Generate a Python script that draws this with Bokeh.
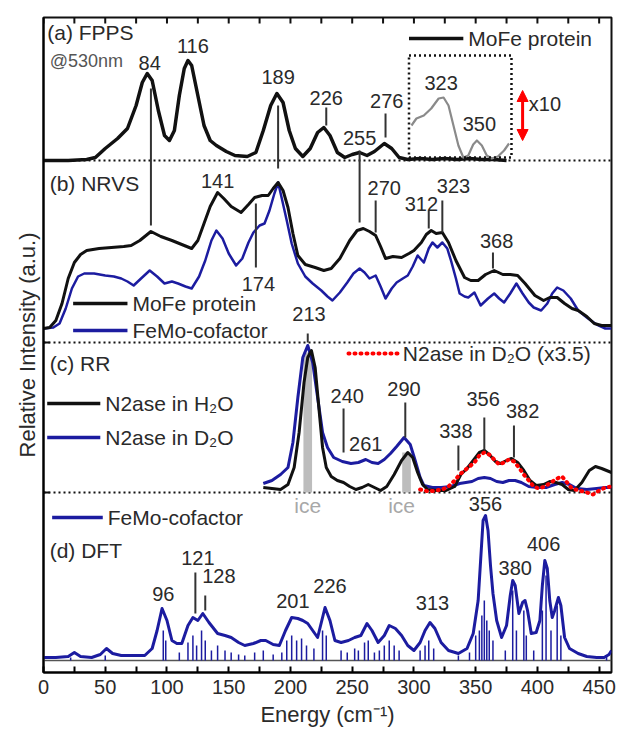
from bokeh.plotting import figure
from bokeh.models import Range1d, FixedTicker, Arrow, NormalHead, ColumnDataSource
from bokeh.core.properties import value
from bokeh.embed import file_html
from bokeh.resources import INLINE

# ---------------- data (energy in cm-1, intensity in a.u.) ----------------
fpps_e = [0, 20, 35, 42, 50, 60, 68, 75, 80, 84, 88, 93, 98, 102, 106, 110, 114, 117, 120, 125,
          130, 135, 140, 148, 155, 165, 172, 178, 184, 189, 194, 199, 204, 210, 216, 222, 227, 232, 238, 244,
          250, 256, 262, 268, 276, 282, 288, 295, 305, 315, 325, 335, 345, 355, 365, 375]
fpps_i = [0, 0, 1, 3, 12, 22, 32, 55, 78, 87, 80, 50, 25, 20, 30, 65, 92, 100, 95, 65,
          35, 20, 15, 9, 5, 4, 8, 30, 55, 67, 58, 30, 12, 4, 12, 28, 33, 25, 8, 3,
          6, 8, 5, 9, 17, 12, 3, 1, 2, 1, 2, 1, 2, 1, 1, 0]

fpps_x10_e = [298, 302, 308, 314, 320, 324, 328, 332, 336, 340, 344, 348, 351, 355, 359, 363, 368, 373, 377]
fpps_x10_i = [35, 42, 45, 52, 62, 63, 55, 35, 15, 3, 5, 16, 20, 15, 5, 2, 4, 10, 17]

nrvs_mofe_e = [0, 5, 10, 15, 20, 25, 30, 35, 45, 55, 65, 71, 78, 87, 95, 104, 112, 120, 125, 130,
               135, 141, 146, 152, 160, 166, 171, 177, 182, 186, 190, 194, 198, 202, 206, 212, 220, 227, 233, 240,
               248, 254, 259, 264, 269, 273, 277, 283, 290, 296, 300, 306, 310, 314, 318, 323, 328, 334, 341, 346,
               352, 358, 365, 372, 378, 384, 390, 398, 405, 410, 416, 422, 428, 433, 440, 446, 452, 460]
nrvs_mofe_i = [0, 1, 8, 25, 50, 66, 74, 78, 80, 81, 82, 83, 88, 97, 92, 88, 84, 80, 88, 105,
               122, 136, 130, 122, 116, 124, 131, 133, 133, 140, 146, 138, 121, 95, 73, 64, 61, 58, 60, 70,
               88, 98, 100, 97, 93, 82, 70, 72, 71, 75, 78, 86, 94, 98, 95, 96, 86, 68, 51, 48,
               48, 54, 58, 54, 54, 53, 45, 33, 28, 31, 31, 25, 20, 18, 12, 5, 3, 3]

nrvs_femoco_e = [0, 8, 13, 18, 23, 28, 33, 41, 50, 57, 63, 68, 73, 79, 86, 92, 98, 104, 109, 115,
                 120, 126, 131, 136, 140, 145, 150, 156, 161, 166, 170, 175, 179, 183, 187, 190, 193, 197, 201, 206,
                 212, 218, 225, 230, 234, 240, 246, 251, 256, 260, 264, 269, 273, 277, 282, 286, 291, 295, 299, 303,
                 308, 312, 315, 319, 323, 327, 330, 334, 337, 341, 344, 349, 354, 360, 365, 369, 373, 378, 383, 388,
                 393, 397, 403, 408, 412, 416, 421, 427, 433, 437, 441, 448, 455, 460]
nrvs_femoco_i = [0, 1, 5, 20, 40, 52, 55, 55, 53, 52, 50, 47, 43, 50, 58, 52, 45, 47, 45, 42,
                 40, 52, 68, 88, 98, 90, 75, 63, 70, 86, 96, 103, 105, 118, 135, 146, 130, 108, 85, 65,
                 52, 45, 38, 32, 28, 36, 46, 55, 60, 56, 50, 53, 42, 30, 40, 46, 50, 53, 62, 73,
                 66, 80, 86, 81, 86, 80, 68, 50, 35, 32, 31, 36, 23, 30, 35, 30, 26, 35, 45, 35,
                 26, 21, 18, 25, 35, 41, 38, 30, 18, 14, 10, 4, 0, 0]

rr_h2o_e = [178, 185, 192, 198, 203, 207, 211, 214, 217, 220, 223, 226, 229, 233, 238, 243, 248, 253, 258, 263,
            268, 273, 278, 284, 290, 295, 299, 303, 307, 311, 318, 326, 333, 338, 343, 348, 353, 357, 361, 366,
            370, 375, 379, 384, 389, 394, 399, 405, 410, 415, 420, 425, 430, 436, 442, 447, 452, 456, 460]
rr_h2o_i = [5, 4, 3, 8, 25, 60, 110, 135, 142, 125, 85, 45, 25, 16, 12, 10, 6, 3, 5, 8,
            5, 2, 6, 18, 32, 40, 35, 20, 8, 3, 2, 2, 6, 18, 24, 32, 40, 42, 38, 31,
            29, 32, 34, 30, 22, 12, 7, 8, 11, 10, 8, 3, 2, 10, 22, 26, 24, 22, 20]

rr_d2o_e = [178, 185, 192, 198, 202, 206, 210, 214, 218, 222, 226, 230, 235, 242, 249, 255, 261, 266, 271, 276,
            281, 286, 292, 297, 301, 305, 308, 315, 322, 330, 337, 342, 347, 352, 357, 362, 367, 372, 377, 382,
            387, 393, 400, 407, 414, 420, 426, 432, 440, 448, 455, 460]
rr_d2o_i = [9, 12, 18, 25, 50, 95, 135, 147, 130, 95, 60, 45, 35, 31, 29, 30, 33, 30, 29, 33,
            39, 46, 55, 48, 32, 15, 7, 5, 5, 6, 9, 10, 11, 14, 15, 14, 11, 10, 12, 12,
            10, 6, 5, 5, 8, 10, 8, 4, 3, 4, 5, 5]

rr_d2o_x35_e = [305, 312, 318, 323, 328, 333, 337, 341, 345, 349, 353, 357, 361, 365, 369, 373, 377, 381, 385, 389,
                393, 397, 401, 406, 411, 416, 420, 424, 428, 434, 440, 445, 450, 455, 460]
rr_d2o_x35_i = [3, 1, 2, 3, 6, 12, 18, 22, 26, 30, 37, 40, 38, 33, 28, 30, 33, 31, 25, 18,
                12, 6, 4, 6, 10, 14, 16, 10, 4, 2, 0, -2, 2, 5, 6]

ice_e = [214, 294]
ice_i = [140, 40]

dft_e = [0, 10, 20, 25, 30, 39, 46, 51, 56, 63, 71, 82, 88, 92, 96, 100, 104, 108, 112, 117,
         121, 125, 129, 134, 141, 147, 152, 158, 163, 170, 176, 180, 186, 191, 196, 201, 206, 210, 214, 218,
         222, 225, 228, 232, 236, 241, 247, 252, 257, 262, 266, 271, 276, 280, 285, 290, 295, 300, 305, 309,
         313, 317, 322, 328, 336, 343, 348, 352, 354, 356, 358, 360, 362, 364, 367, 371, 375, 378, 380, 382,
         385, 388, 390, 392, 395, 399, 402, 404, 406, 408, 410, 412, 414, 417, 419, 422, 426, 433, 440, 448,
         454, 458, 460]
dft_i = [3, 3, 4, 8, 4, 3, 6, 12, 7, 5, 5, 5, 12, 30, 52, 40, 20, 17, 17, 35,
         43, 40, 47, 38, 27, 25, 23, 18, 15, 17, 20, 20, 16, 15, 30, 43, 42, 40, 37, 30,
         23, 38, 53, 40, 20, 18, 20, 23, 25, 37, 30, 18, 25, 35, 32, 25, 15, 10, 18, 30,
         38, 32, 18, 10, 7, 12, 27, 60, 100, 140, 145, 130, 95, 67, 40, 23, 35, 65, 80, 75,
         47, 58, 60, 50, 27, 28, 40, 75, 100, 92, 60, 43, 50, 63, 55, 23, 12, 7, 4, 3,
         3, 6, 10]

dft_stick_e = [22, 50, 97, 99, 110, 117, 121, 124, 128, 131, 136, 141, 147, 152, 158, 163, 171, 178, 186, 193,
               197, 201, 205, 209, 213, 219, 226, 229, 241, 246, 252, 255, 260, 263, 268, 272, 276, 280, 284, 288,
               305, 309, 312, 316, 336, 345, 350, 353, 355, 357, 359, 361, 364, 374, 380, 383, 389, 391, 397, 404,
               407, 411, 416, 419, 456]
dft_stick_i = [3, 5, 30, 20, 8, 18, 25, 15, 30, 20, 10, 15, 10, 8, 6, 5, 8, 10, 6, 8,
               20, 25, 20, 22, 15, 12, 30, 25, 10, 8, 12, 10, 18, 20, 8, 10, 15, 20, 15, 10,
               10, 15, 20, 12, 5, 8, 25, 30, 45, 60, 40, 30, 20, 10, 70, 30, 50, 25, 10, 50,
               85, 30, 55, 25, 5]

x_ticks = [0, 50, 100, 150, 200, 250, 300, 350, 400, 450]
top_ticks = list(range(0, 451, 25))

# peak annotations: (panel, text, x, height above panel baseline)
peak_labels = [
    ("a", "84", 86, 98), ("a", "116", 121, 115), ("a", "189", 190, 84), ("a", "226", 229, 63),
    ("a", "255", 256, 23), ("a", "276", 278, 60), ("a", "323", 322, 78), ("a", "350", 353, 37),
    ("b", "141", 141, 148), ("b", "174", 174, 45), ("b", "270", 276, 141), ("b", "312", 306, 125),
    ("b", "323", 332, 143), ("b", "368", 367, 88),
    ("c", "213", 215, 179), ("c", "240", 246, 97), ("c", "261", 261, 49), ("c", "290", 292, 104),
    ("c", "338", 334, 62), ("c", "356", 356, 94), ("c", "382", 388, 82),
    ("d", "96", 97, 67), ("d", "121", 125, 103), ("d", "128", 142, 85), ("d", "201", 202, 60),
    ("d", "226", 232, 75), ("d", "313", 315, 58), ("d", "356", 358, 157), ("d", "380", 382, 93),
    ("d", "406", 405, 117),
]
# marker lines: (panel, x, h0, h1)
marker_lines = [
    ("a", 229, 35, 53), ("a", 277, 23, 47),
    ("b", 172, 61, 125), ("b", 269, 96, 128), ("b", 312, 100, 118), ("b", 323, 96, 128), ("b", 364, 60, 76),
    ("c", 214, 150, 159), ("c", 243, 40, 84), ("c", 293, 55, 90), ("c", 336, 22, 47),
    ("c", 357, 42, 75), ("c", 381, 35, 67),
    ("d", 123, 47, 88), ("d", 131, 50, 65),
]

# ---------------- layout constants ----------------
OFF = {"a": 512, "b": 344, "c": 180, "d": 12}
SEPARATORS = [512, 330, 180]
YMAX = 655
BLACK = "#111111"
BLUE = "#1c1ca0"
TXT = "#2a2a2a"
FONT = "Liberation Sans"


def sh(vals, panel):
    return [v + OFF[panel] for v in vals]


p = figure(width=618, height=734, x_range=Range1d(0, 460), y_range=Range1d(0, YMAX),
           output_backend="svg", toolbar_location=None,
           min_border_left=43, min_border_right=7, min_border_top=17, min_border_bottom=62,
           x_axis_label="Energy (cm⁻¹)", y_axis_label="Relative Intensity (a.u.)")
p.xgrid.visible = False
p.ygrid.visible = False
p.outline_line_color = BLACK
p.outline_line_width = 2
p.background_fill_color = "white"
p.border_fill_color = "white"

xa = p.xaxis[0]
xa.ticker = FixedTicker(ticks=x_ticks, minor_ticks=[t + 25 for t in x_ticks])
xa.major_tick_in = 6
xa.major_tick_out = 0
xa.minor_tick_in = 6
xa.minor_tick_out = 0
xa.axis_line_width = 2
xa.major_tick_line_width = 2
xa.minor_tick_line_width = 2
xa.major_label_text_font = FONT
xa.major_label_text_font_size = "20px"
xa.major_label_text_color = TXT
xa.major_label_standoff = 7
xa.axis_label_text_font = FONT
xa.axis_label_text_font_size = "22px"
xa.axis_label_text_font_style = "normal"
xa.axis_label_text_color = TXT
xa.axis_label_standoff = 5

ya = p.yaxis[0]
ya.ticker = FixedTicker(ticks=[])
ya.major_tick_in = 0
ya.major_tick_out = 0
ya.axis_line_width = 2
ya.major_label_standoff = 0
ya.axis_label_text_font = FONT
ya.axis_label_text_font_size = "22px"
ya.axis_label_text_font_style = "normal"
ya.axis_label_text_color = TXT
ya.axis_label_standoff = 4

# inward ticks on top edge and on the left edge at panel separators
p.segment(x0=top_ticks, x1=top_ticks, y0=[YMAX] * len(top_ticks), y1=[YMAX - 6] * len(top_ticks),
          line_color=BLACK, line_width=2)
p.segment(x0=[0] * len(SEPARATORS), x1=[5] * len(SEPARATORS), y0=SEPARATORS, y1=SEPARATORS,
          line_color=BLACK, line_width=2)

# separators
for s in SEPARATORS:
    p.line([0, 460], [s, s], line_color=BLACK, line_width=2, line_dash="2 3")

# ---- (a) FPPS
p.line(fpps_e, sh(fpps_i, "a"), line_color=BLACK, line_width=3.5, line_join="round")
p.line(fpps_x10_e, sh(fpps_x10_i, "a"), line_color="#8a8a8a", line_width=2.2, line_join="round")
p.quad(left=296, right=379, bottom=OFF["a"] + 3, top=OFF["a"] + 105, fill_color=None,
       line_color=BLACK, line_width=2.5, line_dash="2 3")
p.add_layout(Arrow(start=NormalHead(size=11, fill_color="red", line_color="red"),
                   end=NormalHead(size=11, fill_color="red", line_color="red"),
                   x_start=388, y_start=OFF["a"] + 20, x_end=388, y_end=OFF["a"] + 70,
                   line_color="red", line_width=3))

# ---- (b) NRVS
p.line(nrvs_femoco_e, sh(nrvs_femoco_i, "b"), line_color=BLUE, line_width=2.5, line_join="round")
p.line(nrvs_mofe_e, sh(nrvs_mofe_i, "b"), line_color=BLACK, line_width=3, line_join="round")

# ---- (c) RR
p.vbar(x=ice_e, top=sh(ice_i, "c"), bottom=OFF["c"], width=7, fill_color="#bdbdbd", line_color=None)
p.line(rr_d2o_e, sh(rr_d2o_i, "c"), line_color=BLUE, line_width=3, line_join="round")
p.line(rr_h2o_e, sh(rr_h2o_i, "c"), line_color=BLACK, line_width=3, line_join="round")
p.line(rr_d2o_x35_e, sh(rr_d2o_x35_i, "c"), line_color="red", line_width=4, line_dash="1 5", line_cap="round")

# ---- (d) DFT
p.line([0, 460], [OFF["d"], OFF["d"]], line_color="#555555", line_width=1.5)
p.segment(x0=dft_stick_e, y0=[OFF["d"]] * len(dft_stick_e), x1=dft_stick_e, y1=sh(dft_stick_i, "d"),
          line_color=BLUE, line_width=1.5)
p.line(dft_e, sh(dft_i, "d"), line_color=BLUE, line_width=3, line_join="round")

# marker lines
mx = [m[1] for m in marker_lines]
p.segment(x0=mx, x1=mx, y0=[OFF[m[0]] + m[2] for m in marker_lines],
          y1=[OFF[m[0]] + m[3] for m in marker_lines], line_color="#333333", line_width=2)
# long connecting lines (a -> b)
p.segment(x0=[87, 190, 256], x1=[87, 190, 256], y0=[447, 504, 450], y1=[584, 567, 522],
          line_color="#333333", line_width=2)

# peak labels
src = ColumnDataSource(dict(x=[l[2] for l in peak_labels], y=[OFF[l[0]] + l[3] for l in peak_labels],
                            t=[l[1] for l in peak_labels]))
p.text(x="x", y="y", text="t", source=src, text_align="center", text_baseline="middle",
       text_font=value(FONT), text_font_size=value("20px"), text_color=TXT)

# panel labels
panel_txt = [("(a) FPPS", 3, OFF["a"] + 128, "21px", TXT), ("@530nm", 5, OFF["a"] + 100, "18px", "#555555"),
             ("(b) NRVS", 5, OFF["b"] + 145, "21px", TXT), ("(c) RR", 5, OFF["c"] + 129, "21px", TXT),
             ("(d) DFT", 5, OFF["d"] + 110, "21px", TXT), ("x10", 393, OFF["a"] + 57, "20px", TXT)]
for t, x, y, fs, c in panel_txt:
    p.text(x=[x], y=[y], text=[t], text_align="left", text_baseline="middle",
           text_font=value(FONT), text_font_size=value(fs), text_color=c)

# ice labels
p.text(x=ice_e[:1] + [290], y=[OFF["c"] - 13] * 2, text=["ice", "ice"], text_align="center",
       text_baseline="middle", text_font=value(FONT), text_font_size=value("21px"), text_color="#a8a8a8")

# legends (swatch x0, x1, y, color, dash, text)
legends = [
    (296, 340, OFF["a"] + 122, BLACK, "solid", "MoFe protein"),
    (24, 68, OFF["b"] + 25, BLACK, "solid", "MoFe protein"),
    (24, 68, OFF["b"] - 2, BLUE, "solid", "FeMo-cofactor"),
    (3, 46, OFF["c"] + 89, BLACK, "solid", "N2ase in H₂O"),
    (3, 46, OFF["c"] + 55, BLUE, "solid", "N2ase in D₂O"),
    (247, 287, OFF["c"] + 139, "red", "dot", "N2ase in D₂O (x3.5)"),
    (7, 48, OFF["d"] + 143, BLUE, "solid", "FeMo-cofactor"),
]
for x0, x1, y, c, d, t in legends:
    if d == "dot":
        p.line([x0, x1], [y, y], line_color=c, line_width=4, line_dash="1 5", line_cap="round")
    else:
        p.line([x0, x1], [y, y], line_color=c, line_width=3.5)
    p.text(x=[x1 + 4], y=[y], text=[t], text_align="left", text_baseline="middle",
           text_font=value(FONT), text_font_size=value("21px"), text_color=TXT)

open("out.html", "w").write(file_html(p, INLINE))
